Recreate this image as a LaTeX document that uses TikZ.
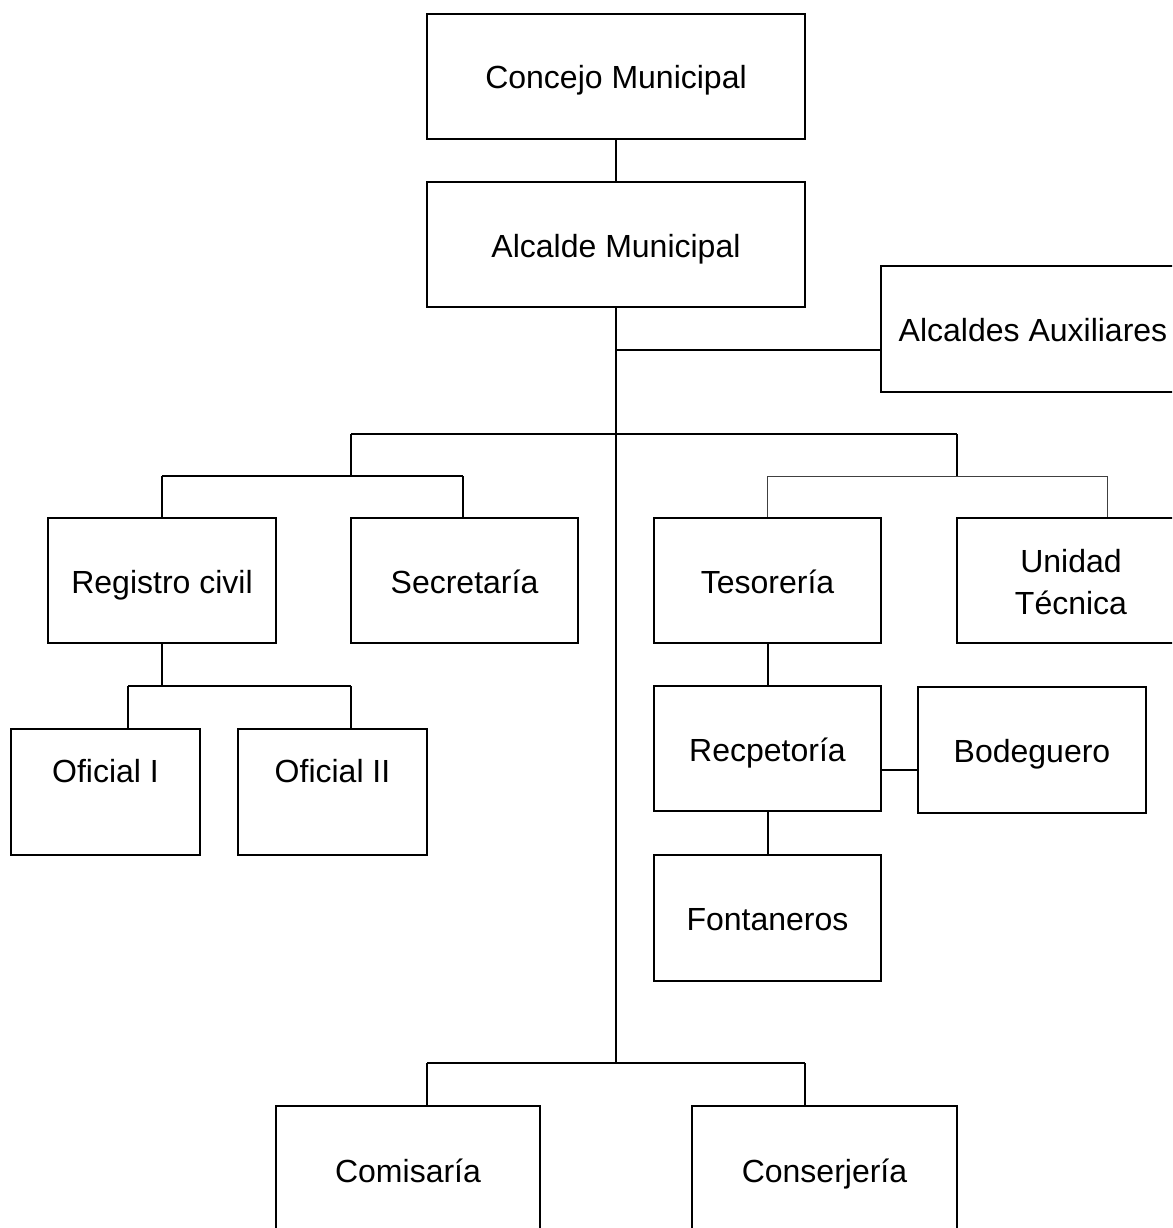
\documentclass[tikz,border=0pt]{standalone}
\usepackage{fontspec}
\setmainfont{Liberation Sans}
\begin{document}
\begin{tikzpicture}[x=1pt,y=-1pt,
 txt/.style={font=\fontsize{32}{42}\selectfont,text height=27pt,text depth=2pt},
 box/.style={draw,line width=2pt,rectangle,inner sep=0pt,minimum height=125pt,align=center,txt},
 conn/.style={line width=2pt},
 thinconn/.style={line width=1pt,black!75}]
\useasboundingbox (0,0) rectangle (1172,1228);
\clip (0,0) rectangle (1172,1228);
% boxes
\node[box,minimum width=378pt] (concejo) at (616,76.5) {Concejo Municipal};
\node[box,minimum width=378pt] (alcalde) at (616,244.5) {Alcalde Municipal};
\node[box,minimum width=309pt,minimum height=126pt] (aux) at (1035.5,329) {};
\node[txt] at (1033,329) {Alcaldes Auxiliares};
\node[box,minimum width=228pt] (registro) at (162,580.5) {Registro civil};
\node[box,minimum width=227pt] (secretaria) at (464.5,580.5) {Secretaría};
\node[box,minimum width=227pt] (tesoreria) at (767.5,580.5) {Tesorería};
\node[box,minimum width=228pt,text height=69pt] (unidad) at (1071,580.5) {Unidad\\Técnica};
\node[box,minimum width=189pt,minimum height=126pt,label={[txt,yshift=22pt]center:Oficial I}] (of1) at (105.5,792) {};
\node[box,minimum width=189pt,minimum height=126pt,label={[txt,yshift=22pt]center:Oficial II}] (of2) at (332.5,792) {};
\node[box,minimum width=227pt] (recp) at (767.5,748.5) {Recpetoría};
\node[box,minimum width=228pt,minimum height=126pt] (bod) at (1032,750) {Bodeguero};
\node[box,minimum width=227pt,minimum height=126pt] (font) at (767.5,918) {Fontaneros};
\node[box,minimum width=264pt,minimum height=128pt] (comis) at (408,1170) {Comisaría};
\node[box,minimum width=265pt,minimum height=128pt] (conser) at (824.5,1170) {Conserjería};
% junction coordinates
\coordinate (jaux) at (616,350);
\coordinate (jbot) at (616,1063);
\coordinate (lb) at (351,434);
\coordinate (rb) at (957,434);
\coordinate (lb2) at (351,476);
\coordinate (rb2) at (957,476);
\coordinate (lrow1) at (162,476);
\coordinate (lrow2) at (463,476);
\coordinate (rrow1) at (767,476);
\coordinate (rrow2) at (1107,476);
\coordinate (ofj) at (162,686);
\coordinate (ofa) at (128,686);
\coordinate (ofb) at (351,686);
\coordinate (bota) at (427,1063);
\coordinate (botb) at (805,1063);
% connectors
\draw[conn] (concejo.south) -- (alcalde.north);
\draw[conn] (alcalde.south) -- (jbot);
\draw[conn] (jaux) -- (jaux -| aux.west);
\draw[conn] (lb) -- (rb);
\draw[conn] (lb) -- (lb2);
\draw[conn] (lrow1) -- (lrow2);
\draw[conn] (lrow1) -- (lrow1 |- registro.north);
\draw[conn] (lrow2) -- (lrow2 |- secretaria.north);
\draw[conn] (rb) -- (rb2);
\draw[thinconn] (rrow1) -- (rrow2);
\draw[thinconn] (rrow1) -- (rrow1 |- tesoreria.north);
\draw[thinconn] (rrow2) -- (rrow2 |- unidad.north);
\draw[conn] (registro.south) -- (ofj);
\draw[conn] (ofa) -- (ofb);
\draw[conn] (ofa) -- (ofa |- of1.north);
\draw[conn] (ofb) -- (ofb |- of2.north);
\draw[conn] (tesoreria.south) -- (recp.north);
\draw[conn] (recp.south) -- (font.north);
\draw[conn] ([yshift=-21.5pt]recp.east) -- ([yshift=-20pt]bod.west);
\draw[conn] (bota) -- (botb);
\draw[conn] (bota) -- (bota |- comis.north);
\draw[conn] (botb) -- (botb |- conser.north);
\end{tikzpicture}
\end{document}
